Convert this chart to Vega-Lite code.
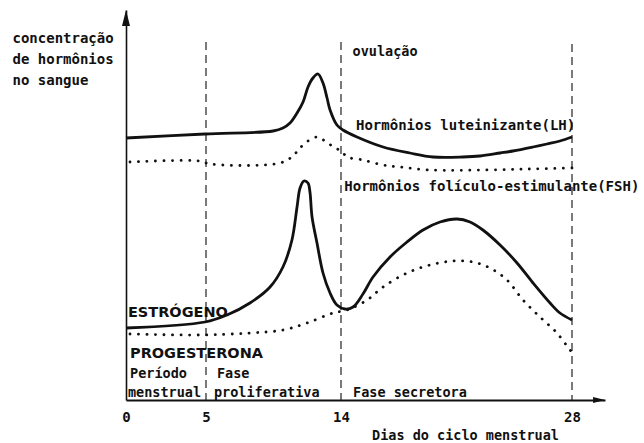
{
  "$schema": "https://vega.github.io/schema/vega-lite/v6.json",
  "width": 479,
  "height": 390,
  "autosize": {"type": "none"},
  "padding": {"left": 126, "top": 10, "right": 39, "bottom": 43},
  "background": "white",
  "config": {"view": {"stroke": null}, "font": "DejaVu Sans Mono"},
  "datasets": {
    "solid": [
      {"h": "LH", "d": 0, "c": 262}, {"h": "LH", "d": 4.94, "c": 266}, {"h": "LH", "d": 9.47, "c": 269}, {"h": "LH", "d": 10.13, "c": 272}, {"h": "LH", "d": 10.6, "c": 277}, {"h": "LH", "d": 11.07, "c": 287}, {"h": "LH", "d": 11.47, "c": 298}, {"h": "LH", "d": 11.8, "c": 313}, {"h": "LH", "d": 12.13, "c": 322}, {"h": "LH", "d": 12.47, "c": 326}, {"h": "LH", "d": 12.8, "c": 317}, {"h": "LH", "d": 13.07, "c": 302}, {"h": "LH", "d": 13.27, "c": 290}, {"h": "LH", "d": 13.73, "c": 275}, {"h": "LH", "d": 14.12, "c": 270}, {"h": "LH", "d": 14.97, "c": 263}, {"h": "LH", "d": 16.55, "c": 253}, {"h": "LH", "d": 18.18, "c": 247}, {"h": "LH", "d": 19.58, "c": 243}, {"h": "LH", "d": 21.39, "c": 243}, {"h": "LH", "d": 22.42, "c": 244}, {"h": "LH", "d": 23.64, "c": 247}, {"h": "LH", "d": 24.42, "c": 249}, {"h": "LH", "d": 25.64, "c": 253}, {"h": "LH", "d": 26.48, "c": 256}, {"h": "LH", "d": 27.27, "c": 259}, {"h": "LH", "d": 28, "c": 263},
      {"h": "Estrogeno", "d": 0, "c": 72}, {"h": "Estrogeno", "d": 4.94, "c": 78}, {"h": "Estrogeno", "d": 6.4, "c": 85}, {"h": "Estrogeno", "d": 7.93, "c": 97}, {"h": "Estrogeno", "d": 9.27, "c": 113}, {"h": "Estrogeno", "d": 10.13, "c": 133}, {"h": "Estrogeno", "d": 10.73, "c": 160}, {"h": "Estrogeno", "d": 11.07, "c": 193}, {"h": "Estrogeno", "d": 11.27, "c": 212}, {"h": "Estrogeno", "d": 11.53, "c": 219}, {"h": "Estrogeno", "d": 11.8, "c": 217}, {"h": "Estrogeno", "d": 11.93, "c": 208}, {"h": "Estrogeno", "d": 12.07, "c": 183}, {"h": "Estrogeno", "d": 12.4, "c": 157}, {"h": "Estrogeno", "d": 12.8, "c": 127}, {"h": "Estrogeno", "d": 13.27, "c": 107}, {"h": "Estrogeno", "d": 13.73, "c": 95}, {"h": "Estrogeno", "d": 14.24, "c": 91}, {"h": "Estrogeno", "d": 14.73, "c": 93}, {"h": "Estrogeno", "d": 15.33, "c": 106}, {"h": "Estrogeno", "d": 15.94, "c": 123}, {"h": "Estrogeno", "d": 16.97, "c": 143}, {"h": "Estrogeno", "d": 18.0, "c": 158}, {"h": "Estrogeno", "d": 18.97, "c": 170}, {"h": "Estrogeno", "d": 20.0, "c": 178}, {"h": "Estrogeno", "d": 21.03, "c": 181}, {"h": "Estrogeno", "d": 21.82, "c": 178}, {"h": "Estrogeno", "d": 22.6, "c": 170}, {"h": "Estrogeno", "d": 23.64, "c": 155}, {"h": "Estrogeno", "d": 24.67, "c": 137}, {"h": "Estrogeno", "d": 25.64, "c": 117}, {"h": "Estrogeno", "d": 26.67, "c": 97}, {"h": "Estrogeno", "d": 27.27, "c": 87}, {"h": "Estrogeno", "d": 28, "c": 80}
    ],
    "dotted": [
      {"h": "FSH", "d": 0.25, "c": 238}, {"h": "FSH", "d": 4.63, "c": 239}, {"h": "FSH", "d": 5.27, "c": 236}, {"h": "FSH", "d": 9.93, "c": 237}, {"h": "FSH", "d": 10.8, "c": 244}, {"h": "FSH", "d": 11.2, "c": 251}, {"h": "FSH", "d": 11.8, "c": 259}, {"h": "FSH", "d": 12.4, "c": 263}, {"h": "FSH", "d": 12.93, "c": 259}, {"h": "FSH", "d": 13.5, "c": 253}, {"h": "FSH", "d": 14.0, "c": 249}, {"h": "FSH", "d": 14.4, "c": 243}, {"h": "FSH", "d": 15.33, "c": 240}, {"h": "FSH", "d": 16.55, "c": 235}, {"h": "FSH", "d": 17.58, "c": 233}, {"h": "FSH", "d": 19.39, "c": 230}, {"h": "FSH", "d": 22.6, "c": 230}, {"h": "FSH", "d": 25.45, "c": 231}, {"h": "FSH", "d": 28, "c": 232},
      {"h": "Progesterona", "d": 0.25, "c": 66}, {"h": "Progesterona", "d": 4.63, "c": 65}, {"h": "Progesterona", "d": 7.93, "c": 67}, {"h": "Progesterona", "d": 10.13, "c": 70}, {"h": "Progesterona", "d": 11.73, "c": 77}, {"h": "Progesterona", "d": 13.47, "c": 87}, {"h": "Progesterona", "d": 14.36, "c": 90}, {"h": "Progesterona", "d": 15.58, "c": 100}, {"h": "Progesterona", "d": 16.55, "c": 113}, {"h": "Progesterona", "d": 18.0, "c": 127}, {"h": "Progesterona", "d": 19.39, "c": 135}, {"h": "Progesterona", "d": 20.79, "c": 139}, {"h": "Progesterona", "d": 22.0, "c": 138}, {"h": "Progesterona", "d": 23.03, "c": 132}, {"h": "Progesterona", "d": 24.06, "c": 120}, {"h": "Progesterona", "d": 25.03, "c": 100}, {"h": "Progesterona", "d": 26.06, "c": 83}, {"h": "Progesterona", "d": 27.09, "c": 67}, {"h": "Progesterona", "d": 27.88, "c": 50}, {"h": "Progesterona", "d": 28, "c": 48}
    ],
    "guides": [
      {"d": 5, "top": 358, "bottom": 0},
      {"d": 14, "top": 358, "bottom": 0},
      {"d": 28, "top": 356, "bottom": 0}
    ],
    "hormones": [
      {"t": "ESTRÓGENO", "d": 0.12, "c": 83},
      {"t": "PROGESTERONA", "d": 0.25, "c": 42}
    ],
    "gonadotropins": [
      {"t": "Hormônios luteinizante(LH)", "d": 14.91, "c": 270},
      {"t": "Hormônios folículo-estimulante(FSH)", "d": 14.2, "c": 209}
    ],
    "phases": [
      {"t": "Período", "d": 0.25, "c": 22},
      {"t": "menstrual", "d": 0.12, "c": 3},
      {"t": "Fase", "d": 5.73, "c": 22},
      {"t": "proliferativa", "d": 5.53, "c": 3},
      {"t": "Fase secretora", "d": 14.73, "c": 3}
    ],
    "events": [
      {"t": "ovulação", "d": 14.7, "c": 344}
    ],
    "arrowUp": [{"d": 0, "c": 382}],
    "arrowRight": [{"d": 29.64, "c": 0}]
  },
  "layer": [
    {
      "data": {"name": "guides"},
      "mark": {"type": "rule", "strokeDash": [8, 5], "strokeWidth": 1.2, "color": "#222"},
      "encoding": {
        "x": {"field": "d", "type": "quantitative", "scale": {"type": "linear", "domain": [0, 5, 14, 28, 30], "range": [0, 80, 215, 446, 479], "nice": false, "zero": false},
          "axis": {"values": [0, 5, 14, 28], "domain": true, "domainColor": "#111", "domainWidth": 1.8, "ticks": false, "tickSize": 0, "grid": false, "labelFontSize": 14, "labelFontWeight": "bold", "labelColor": "#111", "labelBaseline": "alphabetic", "labelPadding": 21, "labelFlush": false, "labelOverlap": false, "labelFont": "DejaVu Sans Mono",
            "title": "Dias do ciclo menstrual", "titleFont": "DejaVu Sans Mono", "titleFontSize": 13.5, "titleFontWeight": "bold", "titleColor": "#111", "titleX": 339, "titleY": 39, "titleAlign": "center", "titleBaseline": "alphabetic"}},
        "y": {"field": "top", "type": "quantitative", "scale": {"domain": [0, 390], "nice": false, "zero": true},
          "axis": {"domain": true, "domainColor": "#111", "domainWidth": 1.6, "labels": false, "ticks": false, "tickSize": 0, "grid": false,
            "title": ["concentração", "de hormônios", "no sangue"], "titleFont": "DejaVu Sans Mono", "titleFontSize": 14, "titleFontWeight": "bold", "titleColor": "#111", "titleAngle": 0, "titleAlign": "left", "titleBaseline": "alphabetic", "titleX": -114, "titleY": 32, "titleLineHeight": 21}},
        "y2": {"field": "bottom"}
      }
    },
    {
      "data": {"name": "solid"},
      "mark": {"type": "line", "interpolate": "catmull-rom", "strokeWidth": 2.8, "color": "#111"},
      "encoding": {
        "x": {"field": "d", "type": "quantitative"},
        "y": {"field": "c", "type": "quantitative"},
        "detail": {"field": "h"}
      }
    },
    {
      "data": {"name": "dotted"},
      "mark": {"type": "line", "interpolate": "catmull-rom", "strokeWidth": 2.8, "strokeDash": [0.1, 8.4], "strokeCap": "round", "color": "#111"},
      "encoding": {
        "x": {"field": "d", "type": "quantitative"},
        "y": {"field": "c", "type": "quantitative"},
        "detail": {"field": "h"}
      }
    },
    {
      "data": {"name": "hormones"},
      "mark": {"type": "text", "align": "left", "baseline": "alphabetic", "font": "DejaVu Sans", "fontWeight": "bold", "fontSize": 14.5, "color": "#111"},
      "encoding": {
        "x": {"field": "d", "type": "quantitative"},
        "y": {"field": "c", "type": "quantitative"},
        "text": {"field": "t"}
      }
    },
    {
      "data": {"name": "gonadotropins"},
      "mark": {"type": "text", "align": "left", "baseline": "alphabetic", "font": "DejaVu Sans Mono", "fontWeight": "bold", "fontSize": 14, "color": "#111"},
      "encoding": {
        "x": {"field": "d", "type": "quantitative"},
        "y": {"field": "c", "type": "quantitative"},
        "text": {"field": "t"}
      }
    },
    {
      "data": {"name": "phases"},
      "mark": {"type": "text", "align": "left", "baseline": "alphabetic", "font": "DejaVu Sans Mono", "fontWeight": "bold", "fontSize": 13.5, "color": "#111"},
      "encoding": {
        "x": {"field": "d", "type": "quantitative"},
        "y": {"field": "c", "type": "quantitative"},
        "text": {"field": "t"}
      }
    },
    {
      "data": {"name": "events"},
      "mark": {"type": "text", "align": "left", "baseline": "alphabetic", "font": "DejaVu Sans Mono", "fontWeight": "bold", "fontSize": 13.5, "color": "#111"},
      "encoding": {
        "x": {"field": "d", "type": "quantitative"},
        "y": {"field": "c", "type": "quantitative"},
        "text": {"field": "t"}
      }
    },
    {
      "data": {"name": "arrowUp"},
      "mark": {"type": "point", "shape": "M -0.5 1 L 0 -1 L 0.5 1 Z", "size": 256, "filled": true, "opacity": 1, "color": "#111"},
      "encoding": {
        "x": {"field": "d", "type": "quantitative"},
        "y": {"field": "c", "type": "quantitative"}
      }
    },
    {
      "data": {"name": "arrowRight"},
      "mark": {"type": "point", "shape": "M -1 -0.5 L 1 0 L -1 0.5 Z", "size": 144, "filled": true, "opacity": 1, "color": "#111"},
      "encoding": {
        "x": {"field": "d", "type": "quantitative"},
        "y": {"field": "c", "type": "quantitative"}
      }
    }
  ]
}
